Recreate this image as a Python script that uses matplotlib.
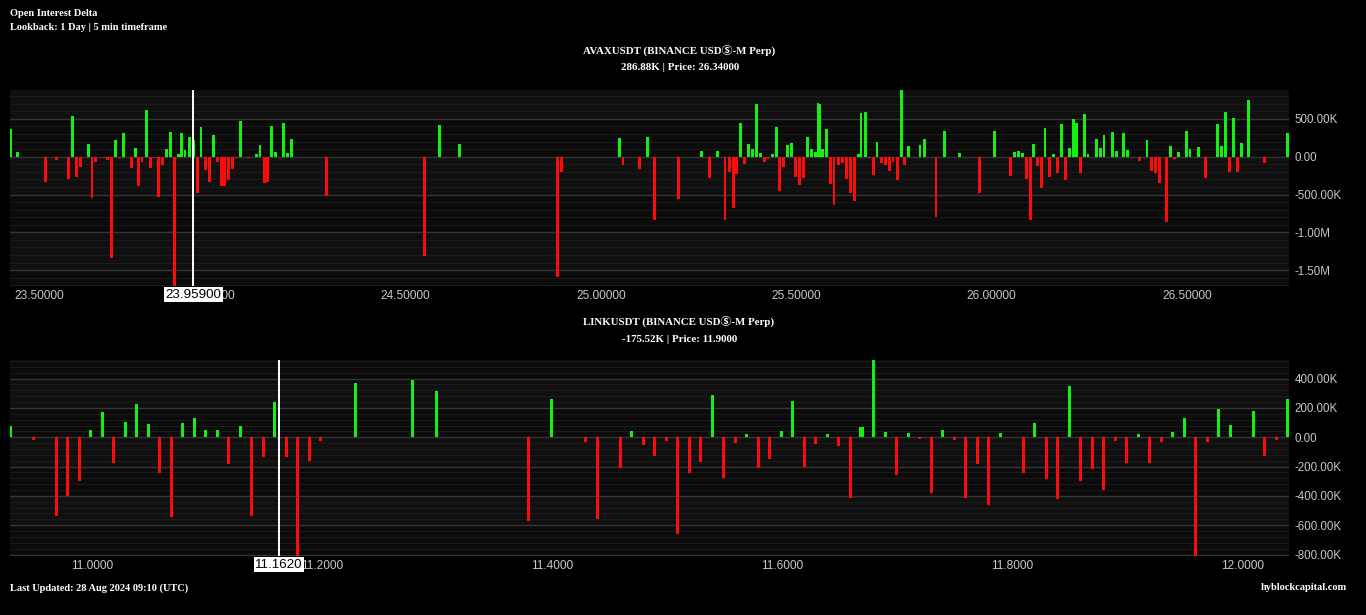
import matplotlib
matplotlib.use('Agg')
import matplotlib.pyplot as plt
import matplotlib.transforms as mtransforms
from matplotlib.ticker import FixedLocator, FuncFormatter, MultipleLocator
import numpy as np

# ---- AVAX panel: bar price level, OI delta in K ----
avax_price = [23.490, 23.507, 23.579, 23.606, 23.637, 23.647, 23.658, 23.668, 23.688, 23.698,
              23.707, 23.728, 23.737, 23.747, 23.757, 23.768, 23.778, 23.798, 23.809, 23.816,
              23.826, 23.837, 23.847, 23.857, 23.867, 23.878, 23.888, 23.898, 23.908, 23.919,
              23.926, 23.936, 23.947, 23.957, 23.967, 23.977, 23.988, 23.998, 24.008, 24.018,
              24.029, 24.036, 24.047, 24.057, 24.067, 24.077, 24.098, 24.118, 24.128, 24.139,
              24.146, 24.157, 24.167, 24.187, 24.198, 24.208, 24.297, 24.548, 24.587, 24.638,
              24.889, 24.899, 25.047, 25.057, 25.098, 25.119, 25.137, 25.198, 25.257, 25.278,
              25.298, 25.318, 25.329, 25.339, 25.347, 25.357, 25.367, 25.377, 25.388, 25.398,
              25.408, 25.418, 25.428, 25.439, 25.449, 25.457, 25.467, 25.477, 25.487, 25.498,
              25.508, 25.518, 25.528, 25.539, 25.549, 25.556, 25.560, 25.567, 25.577, 25.587,
              25.597, 25.608, 25.618, 25.628, 25.638, 25.649, 25.659, 25.666, 25.677, 25.687,
              25.697, 25.707, 25.718, 25.728, 25.738, 25.748, 25.759, 25.769, 25.777, 25.787,
              25.817, 25.828, 25.858, 25.879, 25.917, 25.969, 26.007, 26.048, 26.058, 26.068,
              26.079, 26.089, 26.099, 26.107, 26.117, 26.127, 26.137, 26.148, 26.158, 26.168,
              26.178, 26.189, 26.199, 26.209, 26.217, 26.227, 26.237, 26.247, 26.268, 26.278,
              26.288, 26.309, 26.319, 26.337, 26.347, 26.378, 26.398, 26.409, 26.419, 26.429,
              26.447, 26.457, 26.468, 26.478, 26.498, 26.508, 26.529, 26.547, 26.578, 26.588,
              26.598, 26.608, 26.619, 26.629, 26.639, 26.657, 26.698, 26.757]
avax_delta = [364, 61, -338, -44, -294, 536, -268, -140, 167, -549,
              -70, -22, -44, -1343, 220, -22, 312, -154, 110, -386,
              -70, 615, -149, -22, -536, -110, 101, 325, -1750, 35,
              312, 83, 259, 224, -483, 391, -176, -338, 285, -70,
              -391, -391, -307, -167, -13, 470, -22, 35, 154, -347,
              -338, 404, 61, 443, 48, 233, -522, -1317, 417, 167,
              -1594, -202, 241, -110, -167, 259, -843, -562, 70, -285,
              75, -843, -202, -672, -228, 443, -101, 167, 101, 694,
              48, -70, -35, 35, 391, -452, -140, 149, 180, -268,
              -373, -285, 259, 101, 61, 707, 700, 97, 364, -360,
              -641, -110, -83, -294, -483, -588, 35, 575, 588, -18,
              -241, 193, -83, -110, -189, -70, -307, 878, -110, 136,
              149, 228, -803, 334, 44, -483, 334, -255, 57, 70,
              44, -294, -843, 162, -123, -417, 386, -263, 35, -215,
              430, -307, 110, 492, 443, -215, 562, 35, 228, 110,
              285, 320, 75, 312, 83, -57, 215, -189, -215, -347,
              -865, 136, -26, 61, 334, 97, 123, -281, 430, 136,
              588, -202, 509, -202, 180, 746, -79, 312]

# ---- LINK panel ----
link_price = [10.929, 10.949, 10.969, 10.978, 10.989, 10.998, 11.009, 11.018, 11.029, 11.038,
              11.049, 11.058, 11.069, 11.078, 11.089, 11.098, 11.109, 11.118, 11.129, 11.138,
              11.149, 11.158, 11.169, 11.178, 11.189, 11.198, 11.229, 11.278, 11.299, 11.379,
              11.399, 11.429, 11.439, 11.459, 11.469, 11.479, 11.489, 11.499, 11.509, 11.519,
              11.529, 11.539, 11.549, 11.559, 11.569, 11.579, 11.589, 11.599, 11.609, 11.619,
              11.629, 11.639, 11.649, 11.659, 11.668, 11.670, 11.679, 11.690, 11.699, 11.710,
              11.719, 11.730, 11.739, 11.750, 11.759, 11.770, 11.779, 11.790, 11.810, 11.819,
              11.830, 11.839, 11.850, 11.859, 11.870, 11.879, 11.890, 11.899, 11.910, 11.919,
              11.930, 11.939, 11.950, 11.959, 11.970, 11.979, 11.990, 12.010, 12.019, 12.030,
              12.039]
link_delta = [77, -16, -536, -402, -295, 50, 173, -173, 104, 227,
              91, -241, -547, 98, 132, 50, 50, -184, 77, -540,
              -136, 241, -136, -820, -163, -27, 370, 390, 316, -568,
              261, -34, -561, -207, 43, -54, -125, -27, -663, -241,
              -170, 288, -275, -41, 20, -207, -150, 43, 247, -200,
              -48, 23, -61, -411, 70, 68, 527, 36, -259, 30,
              -14, -381, 48, -20, -415, -184, -459, 30, -245, 95,
              -286, -424, 350, -295, -218, -359, -27, -179, 23, -179,
              -34, 36, 132, -820, -34, 193, 84, 179, -127, -20,
              261]

GREEN = '#14f014'
RED = '#ff0a0a'
BG = '#000000'
TXT = '#c8c8c8'
# Ⓢ is not in the serif faces, the CJK family carries it
serif = ['Liberation Serif', 'Noto Sans CJK JP', 'DejaVu Sans']
sans = ['Liberation Sans', 'DejaVu Sans']


def fmt_val(v, pos=None):
    if abs(v) >= 1e6:
        return '%.2fM' % (v / 1e6)
    if abs(v) >= 1e3:
        return '%.2fK' % (v / 1e3)
    return '%.2f' % v


def draw_panel(ax, prices, deltas, width, xlim, ylim, xticks, xdec, ymajor, cross, cross_lbl):
    vals = np.array(deltas) * 1000.0
    cols = [GREEN if v >= 0 else RED for v in vals]
    ax.set_facecolor('#0b0b0b')
    # alternating bands between major levels
    y = np.floor(ylim[0] / ymajor) * ymajor
    while y < ylim[1]:
        if int(round(y / ymajor)) % 2 == 1:
            ax.axhspan(y, y + ymajor, color='#101010', zorder=0, lw=0)
        y += ymajor
    ax.yaxis.set_major_locator(MultipleLocator(ymajor))
    ax.yaxis.set_minor_locator(MultipleLocator(ymajor / 5))
    ax.grid(which='major', axis='y', color='#353535', lw=1)
    ax.grid(which='minor', axis='y', color='#1b1b1b', lw=0.8)
    ax.set_axisbelow(True)
    ax.bar(prices, vals, width=width, color=cols, zorder=3)
    ax.set_xlim(*xlim)
    ax.set_ylim(*ylim)
    for s in ax.spines.values():
        s.set_visible(False)
    ax.yaxis.tick_right()
    ax.yaxis.set_major_formatter(FuncFormatter(fmt_val))
    ax.tick_params(axis='y', which='both', length=0, pad=4, labelsize=8.3, labelcolor=TXT)
    ax.xaxis.set_major_locator(FixedLocator(xticks))
    ax.xaxis.set_major_formatter(FuncFormatter(lambda v, p: ('%.' + str(xdec) + 'f') % v))
    ax.tick_params(axis='x', length=0, pad=3, labelsize=8.6, labelcolor=TXT)
    for lab in ax.get_xticklabels() + ax.get_yticklabels():
        lab.set_family(sans)
    # crosshair (hover line + price tag)
    ax.axvline(cross, color='white', lw=1.4, zorder=5)
    tr = mtransforms.blended_transform_factory(ax.transData, ax.transAxes)
    ax.text(cross, -0.045, cross_lbl, transform=tr, ha='center', va='center',
            fontsize=9.6, family=sans, color='black', zorder=10, clip_on=False,
            bbox=dict(boxstyle='square,pad=0.12', fc='white', ec='none'))


fig = plt.figure(figsize=(13.66, 6.15), dpi=100, facecolor=BG)

ax1 = fig.add_axes([10 / 1366, 1 - 286 / 615, 1279 / 1366, 196 / 615])
draw_panel(ax1, avax_price, avax_delta, 0.0069,
           (23.4878, 26.7611), (-1.71e6, 0.882e6),
           [23.5, 24.0, 24.5, 25.0, 25.5, 26.0, 26.5], 5, 5e5,
           23.957, '23.95900')
ax1.get_xticklabels()[0].set_horizontalalignment('left')

ax2 = fig.add_axes([10 / 1366, 1 - 556 / 615, 1279 / 1366, 196 / 615])
draw_panel(ax2, link_price, link_delta, 0.0026,
           (10.9284, 12.0406), (-0.81e6, 0.527e6),
           [11.0, 11.2, 11.4, 11.6, 11.8, 12.0], 4, 2e5,
           11.1624, '11.1620')

fig.text(10 / 1366, 1 - 13 / 615, 'Open Interest Delta', color='white', fontsize=7.5,
         family=serif, weight='bold', va='center', ha='left')
fig.text(10 / 1366, 1 - 28 / 615, 'Lookback: 1 Day | 5 min timeframe', color='white', fontsize=7.5,
         family=serif, weight='bold', va='center', ha='left')

fig.text(679 / 1366, 1 - 50 / 615, 'AVAXUSDT (BINANCE USDⓈ-M Perp)', color='white', fontsize=7.8,
         family=serif, weight='bold', va='center', ha='center')
fig.text(680 / 1366, 1 - 68 / 615, '286.88K | Price: 26.34000', color='white', fontsize=7.8,
         family=serif, weight='bold', va='center', ha='center')
fig.text(679 / 1366, 1 - 321 / 615, 'LINKUSDT (BINANCE USDⓈ-M Perp)', color='white', fontsize=7.8,
         family=serif, weight='bold', va='center', ha='center')
fig.text(680 / 1366, 1 - 339 / 615, '-175.52K | Price: 11.9000', color='white', fontsize=7.8,
         family=serif, weight='bold', va='center', ha='center')

fig.text(10 / 1366, 1 - 588 / 615, 'Last Updated: 28 Aug 2024 09:10 (UTC)', color='white', fontsize=7.5,
         family=serif, weight='bold', va='center', ha='left')
fig.text(1347 / 1366, 1 - 588 / 615, 'hyblockcapital.com', color='white', fontsize=7.5,
         family=serif, weight='bold', va='center', ha='right')

fig.savefig('out.png', dpi=100, facecolor=BG)
